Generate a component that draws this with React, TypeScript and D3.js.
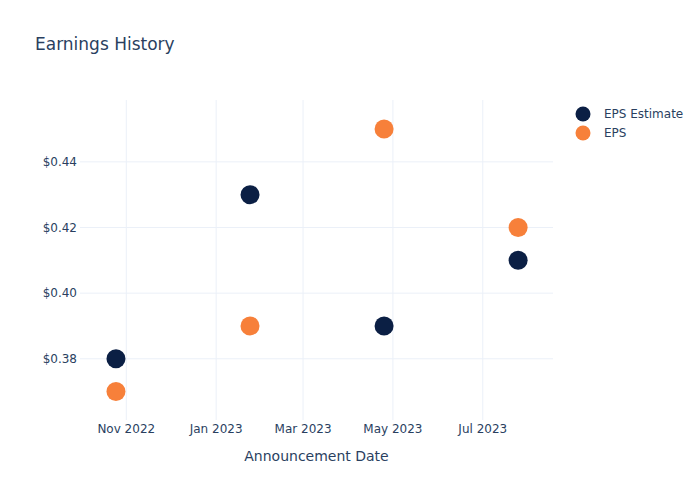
import React from "react";
import * as d3 from "d3";

const dates = ["2022-10-25", "2023-01-24", "2023-04-25", "2023-07-25"];
const epsEstimate = [0.38, 0.43, 0.39, 0.41];
const epsActual = [0.37, 0.39, 0.45, 0.42];
const yTicks = [0.38, 0.4, 0.42, 0.44];
const xTickDates = ["2022-11-01", "2023-01-01", "2023-03-01", "2023-05-01", "2023-07-01"];
const seriesNames = ["EPS Estimate", "EPS"];
const seriesColors = ["#0b1f44", "#f7803a"];

const W = 700, H = 500;
const L = 80, R = 553, T = 100, B = 420;
const FONT = "'DejaVu Sans', Verdana, sans-serif";
const TEXT = "#2a3f5f";
const GRID = "#EBF0F8";

const parse = d3.utcParse("%Y-%m-%d");

export default function App() {
  const x = d3
    .scaleUtc()
    .domain([new Date(Date.UTC(2022, 8, 30, 14)), new Date(Date.UTC(2023, 7, 17, 16))])
    .range([L, R]);
  const y = d3.scaleLinear().domain([0.3611, 0.4586]).range([B + 0.8, T + 0.8]);
  const fmtMonth = d3.utcFormat("%b %Y");
  const series = [epsEstimate, epsActual];

  return (
    <svg width={W} height={H} style={{ position: "absolute", left: 0, top: 0, background: "#fff" }} fontFamily={FONT}>
      <rect x={0} y={0} width={W} height={H} fill="#fff" />
      {xTickDates.map((d) => {
        const px = x(parse(d)!);
        return <line key={d} x1={px} x2={px} y1={T} y2={B} stroke={GRID} strokeWidth={1} />;
      })}
      {yTicks.map((v) => (
        <line key={v} x1={L} x2={R} y1={y(v)} y2={y(v)} stroke={GRID} strokeWidth={1} />
      ))}
      {yTicks.map((v) => (
        <text key={"yl" + v} x={L - 3} y={y(v)} dy="0.35em" textAnchor="end" fontSize={12} fill={TEXT}>
          {"$" + v.toFixed(2)}
        </text>
      ))}
      {xTickDates.map((d) => (
        <text key={"xl" + d} x={x(parse(d)!)} y={428.5} dy="0.35em" textAnchor="middle" fontSize={12} fill={TEXT}>
          {fmtMonth(parse(d)!)}
        </text>
      ))}
      <text x={(L + R) / 2} y={456.5} dy="0.35em" textAnchor="middle" fontSize={14} fill={TEXT}>
        Announcement Date
      </text>
      <text x={35} y={50} fontSize={17} fill={TEXT}>
        Earnings History
      </text>
      {series.map((vals, si) =>
        vals.map((v, i) => (
          <circle key={si + "-" + i} cx={x(parse(dates[i])!)} cy={y(v)} r={9.5} fill={seriesColors[si]} />
        ))
      )}
      {seriesNames.map((n, i) => (
        <g key={n} transform={`translate(0, ${114 + i * 19})`}>
          <circle cx={583} cy={0} r={7.5} fill={seriesColors[i]} />
          <text x={604} y={0} dy="0.35em" fontSize={12} fill={TEXT}>
            {n}
          </text>
        </g>
      ))}
    </svg>
  );
}
